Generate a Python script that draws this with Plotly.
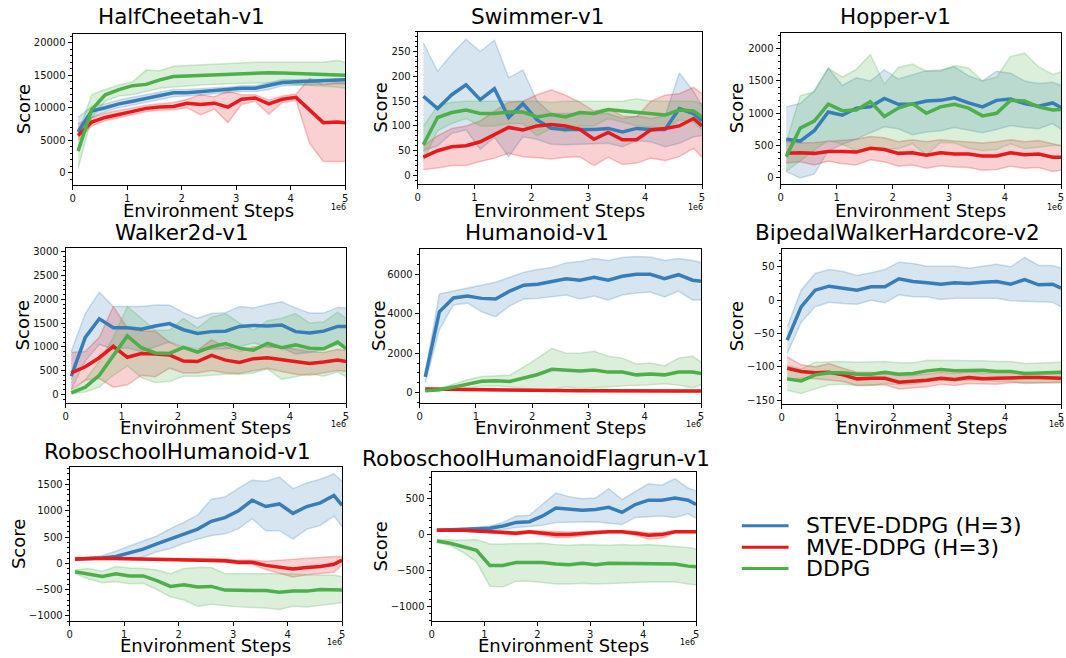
import plotly.graph_objects as go

W, H = 1066, 658

# ---------------- data ----------------
X = [0.1, 0.35, 0.6, 0.85, 1.1, 1.35, 1.6, 1.85, 2.1, 2.35, 2.6, 2.85,
     3.1, 3.35, 3.6, 3.85, 4.1, 4.35, 4.6, 4.85, 5.0]
X_TICKS = [0, 1, 2, 3, 4, 5]
SERIES = ["STEVE-DDPG (H=3)", "MVE-DDPG (H=3)", "DDPG"]

# HalfCheetah-v1
HC_STEVE = [6300, 9500, 10000, 10600, 11000, 11400, 11900, 12300, 12300, 12500, 12700, 12800, 13000, 13000, 13400, 13900, 14000, 14100, 14100, 14200, 14300]
HC_STEVE_LO = [5500, 8500, 9400, 10000, 10400, 10800, 11300, 11700, 11800, 12000, 12200, 12300, 12500, 12500, 12800, 13400, 13500, 13600, 13600, 13700, 13700]
HC_STEVE_HI = [8500, 10200, 10600, 11200, 11600, 12000, 12400, 12800, 12800, 13000, 13100, 13200, 13400, 13400, 13800, 14300, 14300, 14300, 14300, 14400, 14500]
HC_MVE = [5700, 7800, 8500, 9000, 9500, 9900, 10100, 10200, 10700, 10500, 10700, 10100, 11300, 11500, 10600, 11300, 11600, 9600, 7700, 7800, 7700]
HC_MVE_LO = [5000, 7200, 8000, 8500, 9000, 9400, 9600, 9700, 10000, 8900, 9800, 7700, 10500, 11000, 9000, 10800, 11100, 4500, 1700, 1700, 1700]
HC_MVE_HI = [7500, 8500, 9200, 9600, 10000, 10400, 10600, 10800, 11300, 12000, 11700, 12500, 12000, 12000, 11200, 11800, 12100, 14500, 13500, 13900, 13800]
HC_DDPG = [3300, 9700, 12000, 12800, 13400, 13600, 14300, 14800, 14900, 15000, 15100, 15200, 15300, 15350, 15400, 15350, 15300, 15200, 15200, 15100, 15000]
HC_DDPG_LO = [600, 8500, 11000, 11800, 12000, 12500, 13000, 13200, 13400, 13500, 13600, 13700, 13700, 13800, 13800, 13700, 13600, 13500, 13400, 13200, 13000]
HC_DDPG_HI = [6000, 12000, 12800, 13500, 14000, 15800, 15700, 16400, 16500, 16600, 16800, 16900, 16900, 17000, 17000, 17000, 17000, 17000, 17000, 17300, 17000]
HC_YTICKS = [0, 5000, 10000, 15000, 20000]

# Swimmer-v1
SW_STEVE = [160, 135, 163, 183, 153, 175, 117, 145, 112, 95, 93, 93, 93, 95, 88, 95, 93, 93, 135, 125, 110]
SW_STEVE_LO = [50, 60, 85, 92, 53, 77, 38, 78, 73, 63, 62, 63, 63, 65, 58, 70, 68, 58, 65, 78, 80]
SW_STEVE_HI = [268, 210, 245, 275, 250, 273, 197, 213, 150, 125, 125, 125, 125, 125, 115, 120, 115, 120, 207, 170, 140]
SW_MVE = [37, 50, 58, 60, 68, 82, 97, 92, 100, 103, 100, 93, 73, 87, 72, 72, 92, 95, 100, 115, 100]
SW_MVE_LO = [12, 15, 20, 20, 28, 35, 45, 38, 36, 33, 37, 38, 20, 37, 22, 25, 35, 30, 38, 55, 37]
SW_MVE_HI = [60, 80, 95, 100, 110, 130, 148, 150, 163, 173, 162, 148, 130, 135, 120, 118, 150, 162, 165, 178, 165]
SW_DDPG = [62, 117, 127, 132, 125, 125, 128, 128, 118, 123, 118, 127, 125, 133, 130, 127, 125, 122, 132, 130, 118]
SW_DDPG_LO = [30, 90, 105, 115, 100, 100, 105, 105, 80, 95, 88, 100, 100, 115, 108, 100, 98, 95, 112, 108, 92]
SW_DDPG_HI = [100, 140, 148, 150, 150, 150, 150, 150, 150, 148, 150, 150, 150, 150, 150, 155, 150, 150, 150, 150, 145]
SW_YTICKS = [0, 50, 100, 150, 200, 250]

# Hopper-v1
HO_STEVE = [600, 570, 730, 1020, 970, 1080, 1100, 1230, 1140, 1140, 1190, 1200, 1240, 1160, 1100, 1200, 1220, 1150, 1110, 1160, 1090]
HO_STEVE_LO = [100, 0, 60, 420, 520, 600, 700, 790, 760, 670, 710, 730, 780, 740, 700, 750, 810, 780, 760, 840, 750]
HO_STEVE_HI = [1100, 1150, 1350, 1700, 1430, 1550, 1500, 1670, 1530, 1600, 1660, 1670, 1720, 1580, 1500, 1650, 1620, 1500, 1460, 1480, 1430]
HO_MVE = [380, 390, 380, 410, 410, 400, 460, 440, 380, 390, 350, 390, 370, 370, 340, 340, 390, 360, 370, 320, 320]
HO_MVE_LO = [230, 250, 200, 260, 220, 200, 280, 250, 180, 200, 150, 190, 170, 160, 120, 130, 180, 150, 160, 100, 120]
HO_MVE_HI = [560, 540, 550, 570, 590, 600, 640, 620, 560, 590, 560, 590, 570, 560, 540, 560, 590, 560, 580, 530, 500]
HO_DDPG = [330, 770, 880, 1140, 1040, 1050, 1180, 950, 1080, 1150, 1000, 1100, 1140, 1080, 960, 1000, 1200, 1190, 1100, 1050, 1060]
HO_DDPG_LO = [100, 270, 430, 580, 520, 420, 450, 450, 450, 530, 350, 550, 540, 460, 420, 440, 530, 450, 470, 500, 500]
HO_DDPG_HI = [550, 1270, 1330, 1700, 1560, 1680, 1910, 1450, 1710, 1760, 1650, 1650, 1740, 1700, 1500, 1560, 1880, 1930, 1720, 1600, 1640]
HO_YTICKS = [0, 500, 1000, 1500, 2000]

# Walker2d-v1
WA_STEVE = [380, 1200, 1590, 1400, 1400, 1370, 1440, 1490, 1360, 1280, 1320, 1330, 1430, 1450, 1440, 1460, 1320, 1290, 1330, 1430, 1430]
WA_STEVE_LO = [100, 700, 1050, 950, 980, 900, 1000, 1100, 1000, 960, 950, 960, 1000, 1080, 1000, 980, 850, 880, 950, 1050, 1050]
WA_STEVE_HI = [900, 1700, 2150, 1850, 1850, 1850, 1880, 1880, 1720, 1600, 1700, 1720, 1850, 1820, 1890, 1950, 1820, 1710, 1710, 1830, 1820]
WA_MVE = [450, 580, 770, 1010, 780, 860, 850, 830, 700, 690, 820, 720, 670, 750, 770, 730, 680, 650, 680, 720, 690]
WA_MVE_LO = [100, 300, 330, 150, 200, 400, 370, 550, 450, 450, 500, 450, 440, 500, 550, 480, 420, 400, 450, 500, 480]
WA_MVE_HI = [880, 900, 1200, 1850, 1400, 1330, 1330, 1100, 960, 920, 1150, 1000, 900, 1000, 1000, 1000, 950, 900, 880, 950, 920]
WA_DDPG = [30, 150, 400, 800, 1230, 980, 870, 860, 990, 890, 1000, 1070, 970, 930, 1070, 980, 1040, 970, 960, 1100, 960]
WA_DDPG_LO = [10, 50, 150, 400, 600, 350, 250, 270, 380, 380, 400, 420, 420, 450, 530, 320, 370, 430, 380, 470, 370]
WA_DDPG_HI = [60, 300, 700, 1200, 1850, 1600, 1350, 1350, 1600, 1400, 1620, 1700, 1500, 1350, 1550, 1600, 1700, 1500, 1520, 1730, 1600]
WA_YTICKS = [0, 500, 1000, 1500, 2000, 2500, 3000]

# Humanoid-v1
HU_STEVE = [800, 4100, 4800, 4900, 4780, 4750, 5150, 5450, 5500, 5620, 5780, 5700, 5850, 5700, 5900, 6000, 6000, 5780, 5980, 5700, 5650]
HU_STEVE_LO = [500, 3200, 4450, 4550, 4100, 3850, 4400, 4750, 4780, 4850, 4950, 4750, 4900, 4700, 4950, 5050, 5100, 4850, 5150, 4700, 4700]
HU_STEVE_HI = [1000, 5000, 5150, 5300, 5450, 5600, 5850, 6100, 6250, 6350, 6580, 6650, 6800, 6700, 6850, 6900, 6880, 6700, 6800, 6700, 6600]
HU_MVE = [180, 170, 150, 130, 120, 110, 110, 100, 100, 100, 100, 90, 100, 90, 90, 90, 90, 80, 80, 80, 80]
HU_MVE_LO = [130, 120, 100, 90, 80, 80, 70, 70, 70, 70, 70, 60, 70, 60, 60, 60, 60, 50, 50, 50, 50]
HU_MVE_HI = [230, 220, 200, 170, 150, 140, 140, 130, 130, 130, 130, 120, 130, 120, 120, 120, 120, 110, 110, 110, 110]
HU_DDPG = [100, 150, 280, 420, 580, 600, 570, 740, 920, 1180, 1130, 1100, 1150, 1040, 1040, 900, 940, 900, 1050, 1040, 970]
HU_DDPG_LO = [50, 90, 150, 200, 330, 350, 300, 200, 150, 150, 300, 200, 250, 300, 350, 380, 400, 450, 380, 250, 400]
HU_DDPG_HI = [150, 220, 420, 650, 820, 850, 880, 1300, 1750, 2250, 2000, 2000, 2100, 1850, 1750, 1450, 1500, 1350, 1750, 1850, 1550]
HU_YTICKS = [0, 2000, 4000, 6000]

# BipedalWalkerHardcore-v2
BI_STEVE = [-60, -10, 15, 21, 18, 15, 20, 20, 32, 28, 26, 24, 26, 25, 27, 28, 24, 31, 23, 24, 18]
BI_STEVE_LO = [-80, -33, -10, -3, -5, -6, 0, -4, 8, 5, 5, 1, 3, 3, 4, 3, -1, -2, -3, -3, -10]
BI_STEVE_HI = [-40, 15, 40, 46, 43, 37, 41, 46, 57, 55, 51, 51, 51, 48, 51, 54, 50, 64, 52, 52, 48]
BI_MVE = [-102, -107, -109, -108, -112, -118, -117, -117, -123, -122, -120, -117, -119, -116, -118, -117, -116, -116, -116, -117, -117]
BI_MVE_LO = [-120, -117, -118, -120, -122, -128, -127, -127, -133, -131, -130, -126, -128, -125, -126, -126, -124, -124, -124, -124, -124]
BI_MVE_HI = [-85, -97, -100, -95, -102, -108, -108, -110, -113, -113, -110, -108, -110, -107, -110, -108, -108, -108, -110, -110, -110]
BI_DDPG = [-118, -121, -112, -109, -109, -111, -111, -108, -111, -110, -106, -104, -106, -105, -105, -107, -107, -110, -109, -109, -108]
BI_DDPG_LO = [-135, -140, -133, -127, -126, -128, -128, -125, -127, -126, -122, -120, -121, -120, -120, -122, -122, -125, -124, -124, -123]
BI_DDPG_HI = [-98, -103, -93, -92, -92, -93, -93, -92, -94, -94, -90, -90, -91, -91, -91, -92, -92, -95, -94, -94, -93]
BI_YTICKS = [-150, -100, -50, 0, 50]

# RoboschoolHumanoid-v1
RH_STEVE = [80, 90, 100, 130, 200, 270, 370, 460, 550, 650, 800, 870, 1000, 1200, 1080, 1130, 950, 1080, 1150, 1290, 1100]
RH_STEVE_LO = [60, 70, 80, 70, 80, 120, 220, 280, 380, 460, 530, 560, 660, 850, 620, 620, 460, 650, 720, 900, 700]
RH_STEVE_HI = [100, 110, 150, 230, 330, 420, 520, 660, 780, 920, 1220, 1260, 1430, 1580, 1560, 1640, 1420, 1530, 1600, 1700, 1560]
RH_MVE = [80, 90, 95, 90, 85, 75, 75, 80, 75, 70, 60, 50, 20, 20, -40, -80, -110, -80, -60, -20, 60]
RH_MVE_LO = [50, 70, 75, 70, 65, 55, 55, 60, 55, 50, 35, 20, -20, -20, -120, -190, -260, -220, -200, -170, -30]
RH_MVE_HI = [110, 110, 115, 110, 105, 95, 95, 100, 95, 90, 85, 80, 60, 60, 40, 60, 70, 100, 120, 130, 130]
RH_DDPG = [-160, -200, -250, -200, -240, -240, -330, -440, -410, -450, -440, -510, -520, -520, -520, -550, -530, -530, -500, -510, -510]
RH_DDPG_LO = [-200, -300, -370, -350, -390, -380, -500, -640, -700, -820, -780, -810, -830, -840, -850, -880, -820, -830, -800, -760, -750]
RH_DDPG_HI = [-130, -100, -150, -60, -90, -100, -130, -200, -100, -80, -80, -200, -200, -200, -200, -200, -200, -220, -220, -230, -250]
RH_YTICKS = [-1000, -500, 0, 500, 1000, 1500]

# RoboschoolHumanoidFlagrun-v1
RF_STEVE = [60, 65, 70, 80, 90, 120, 170, 180, 260, 370, 350, 340, 350, 380, 310, 420, 480, 480, 510, 480, 420]
RF_STEVE_LO = [50, 55, 60, 60, 60, 70, 100, 110, 130, 170, 170, 170, 180, 160, 140, 240, 250, 260, 240, 290, 230]
RF_STEVE_HI = [70, 75, 80, 100, 120, 170, 260, 270, 420, 580, 530, 500, 510, 640, 490, 600, 710, 690, 780, 650, 610]
RF_MVE = [60, 65, 60, 50, 40, 30, 20, 40, 20, 0, 0, 20, 30, 40, 40, 20, -10, 0, 40, 40, 40]
RF_MVE_LO = [45, 55, 50, 40, 25, 10, -10, 20, -10, -40, -40, -10, 10, 25, 25, -10, -60, -50, 25, 30, 30]
RF_MVE_HI = [75, 75, 70, 60, 55, 45, 40, 55, 45, 35, 35, 40, 45, 50, 50, 45, 25, 30, 50, 50, 50]
RF_DDPG = [-90, -120, -170, -220, -430, -430, -390, -390, -390, -410, -420, -400, -420, -400, -400, -410, -400, -400, -410, -440, -450]
RF_DDPG_LO = [-110, -150, -250, -380, -720, -730, -650, -650, -670, -690, -690, -680, -690, -680, -670, -670, -660, -660, -660, -690, -700]
RF_DDPG_HI = [-70, -80, -80, -70, -130, -130, -130, -130, -120, -140, -150, -140, -150, -150, -140, -150, -140, -150, -160, -180, -200]
RF_YTICKS = [-1000, -500, 0, 500]

# ---------------- styling / layout ----------------
COLORS = [(55, 126, 184), (228, 26, 28), (77, 175, 74)]
FONT = "DejaVu Sans"

# (title, series data, yticks, yrange, minor dtick, plot px box [l, r, t, b],
#  title center px, ylabel x px, xlabel y px, 1e6 px)
PANELS = [
    ("HalfCheetah-v1", [(HC_STEVE, HC_STEVE_LO, HC_STEVE_HI), (HC_MVE, HC_MVE_LO, HC_MVE_HI), (HC_DDPG, HC_DDPG_LO, HC_DDPG_HI)],
     HC_YTICKS, [-1900, 21400], 1000, [70, 344, 32, 184], (180, 15), 20, 210, (337, 207)),
    ("Swimmer-v1", [(SW_STEVE, SW_STEVE_LO, SW_STEVE_HI), (SW_MVE, SW_MVE_LO, SW_MVE_HI), (SW_DDPG, SW_DDPG_LO, SW_DDPG_HI)],
     SW_YTICKS, [-17, 290], 10, [417, 703, 30, 183], (538, 15), 380, 210, (696, 207)),
    ("Hopper-v1", [(HO_STEVE, HO_STEVE_LO, HO_STEVE_HI), (HO_MVE, HO_MVE_LO, HO_MVE_HI), (HO_DDPG, HO_DDPG_LO, HO_DDPG_HI)],
     HO_YTICKS, [-92, 2245], 100, [782, 1064, 31, 183], (898, 15), 738, 210, (1057, 207)),
    ("Walker2d-v1", [(WA_STEVE, WA_STEVE_LO, WA_STEVE_HI), (WA_MVE, WA_MVE_LO, WA_MVE_HI), (WA_DDPG, WA_DDPG_LO, WA_DDPG_HI)],
     WA_YTICKS, [-174, 3071], 100, [63, 345, 248, 403], (180, 232), 20, 428, (337, 425)),
    ("Humanoid-v1", [(HU_STEVE, HU_STEVE_LO, HU_STEVE_HI), (HU_MVE, HU_MVE_LO, HU_MVE_HI), (HU_DDPG, HU_DDPG_LO, HU_DDPG_HI)],
     HU_YTICKS, [-504, 7260], 500, [419, 702, 249, 403], (537, 232), 377, 428, (694, 425)),
    ("BipedalWalkerHardcore-v2", [(BI_STEVE, BI_STEVE_LO, BI_STEVE_HI), (BI_MVE, BI_MVE_LO, BI_MVE_HI), (BI_DDPG, BI_DDPG_LO, BI_DDPG_HI)],
     BI_YTICKS, [-155, 76], 10, [783, 1064, 249, 404], (900, 232), 738, 428, (1059, 425)),
    ("RoboschoolHumanoid-v1", [(RH_STEVE, RH_STEVE_LO, RH_STEVE_HI), (RH_MVE, RH_MVE_LO, RH_MVE_HI), (RH_DDPG, RH_DDPG_LO, RH_DDPG_HI)],
     RH_YTICKS, [-1103, 1830], 100, [67, 341, 468, 623], (175, 452), 15, 647, (333, 644)),
    ("RoboschoolHumanoidFlagrun-v1", [(RF_STEVE, RF_STEVE_LO, RF_STEVE_HI), (RF_MVE, RF_MVE_LO, RF_MVE_HI), (RF_DDPG, RF_DDPG_LO, RF_DDPG_HI)],
     RF_YTICKS, [-1209, 872], 100, [431, 697, 473, 623], (536, 459), 380, 647, (688, 644)),
]

# legend box (pixel positions): line start/end x, text x, row y centres
LEGEND_LINE_X = (743, 790)
LEGEND_TEXT_X = 806
LEGEND_ROWS_Y = [527, 548.5, 570]


def px(x):
    return x / W


def py(y):
    return 1 - y / H


def rgba(c, a):
    return "rgba(%d,%d,%d,%s)" % (c[0], c[1], c[2], a)


def fmt(v):
    return str(v).replace("-", "\u2212")


fig = go.Figure()
annotations = []
shapes = []
layout = {}

for i, (title, series, yticks, yrange, minor, box, tpos, ylx, xly, epos) in enumerate(PANELS):
    n = i + 1
    xa = "x" if n == 1 else "x%d" % n
    ya = "y" if n == 1 else "y%d" % n
    l, r, t, b = box
    # bands first
    for (mean, lo, hi), c in zip(series, COLORS):
        fig.add_trace(go.Scatter(x=X, y=lo, xaxis=xa, yaxis=ya, mode="lines",
                                 line=dict(color=rgba(c, 0.25), width=1.5),
                                 showlegend=False, hoverinfo="skip"))
        fig.add_trace(go.Scatter(x=X, y=hi, xaxis=xa, yaxis=ya, mode="lines",
                                 line=dict(color=rgba(c, 0.25), width=1.5),
                                 fill="tonexty", fillcolor=rgba(c, 0.2),
                                 showlegend=False, hoverinfo="skip"))
    for (mean, lo, hi), c, name in zip(series, COLORS, SERIES):
        fig.add_trace(go.Scatter(x=X, y=mean, xaxis=xa, yaxis=ya, mode="lines",
                                 line=dict(color=rgba(c, 1), width=3.5),
                                 name=name, showlegend=False, legendgroup=name))
    axis_common = dict(showline=True, mirror=True, linecolor="black", linewidth=1,
                       ticks="outside", ticklen=4, tickwidth=1, tickcolor="black",
                       showgrid=False, zeroline=False,
                       tickfont=dict(family=FONT, size=10, color="#111"))
    layout["xaxis" if n == 1 else "xaxis%d" % n] = dict(
        axis_common, domain=[px(l), px(r)], range=[0, 5], anchor=ya,
        tickvals=X_TICKS, ticktext=[fmt(v) for v in X_TICKS])
    layout["yaxis" if n == 1 else "yaxis%d" % n] = dict(
        axis_common, domain=[py(b), py(t)], range=yrange, anchor=xa,
        tickvals=yticks, ticktext=[fmt(v) for v in yticks],
        minor=dict(ticks="outside", ticklen=2, tickcolor="black", dtick=minor, tick0=0))
    annotations.append(dict(text=title, x=px(tpos[0]), y=py(tpos[1]), xref="paper", yref="paper",
                            showarrow=False, xanchor="center", yanchor="middle",
                            font=dict(family=FONT, size=21.5, color="black")))
    annotations.append(dict(text="Environment Steps", x=px((l + r) / 2), y=py(xly), xref="paper", yref="paper",
                            showarrow=False, xanchor="center", yanchor="middle",
                            font=dict(family=FONT, size=18, color="black")))
    annotations.append(dict(text="Score", x=px(ylx), y=py((t + b) / 2), xref="paper", yref="paper",
                            showarrow=False, xanchor="center", yanchor="middle", textangle=-90,
                            font=dict(family=FONT, size=18, color="black")))
    annotations.append(dict(text="1e6", x=px(epos[0]), y=py(epos[1]), xref="paper", yref="paper",
                            showarrow=False, xanchor="center", yanchor="middle",
                            font=dict(family=FONT, size=8, color="black")))

# legend (drawn as key lines + labels)
for name, c, yrow in zip(SERIES, COLORS, LEGEND_ROWS_Y):
    shapes.append(dict(type="line", xref="paper", yref="paper",
                       x0=px(LEGEND_LINE_X[0]), x1=px(LEGEND_LINE_X[1]), y0=py(yrow), y1=py(yrow),
                       line=dict(color=rgba(c, 1), width=3)))
    annotations.append(dict(text=name, x=px(LEGEND_TEXT_X), y=py(yrow), xref="paper", yref="paper",
                            showarrow=False, xanchor="left", yanchor="middle",
                            font=dict(family=FONT, size=22, color="black")))

fig.update_layout(
    width=W, height=H, margin=dict(l=0, r=0, t=0, b=0),
    paper_bgcolor="white", plot_bgcolor="white",
    font=dict(family=FONT, color="black"),
    annotations=annotations,
    shapes=shapes,
    showlegend=False,
    **layout,
)

fig.write_html("out.html", config={"displayModeBar": False},
               post_script="document.body.style.margin='0';")
